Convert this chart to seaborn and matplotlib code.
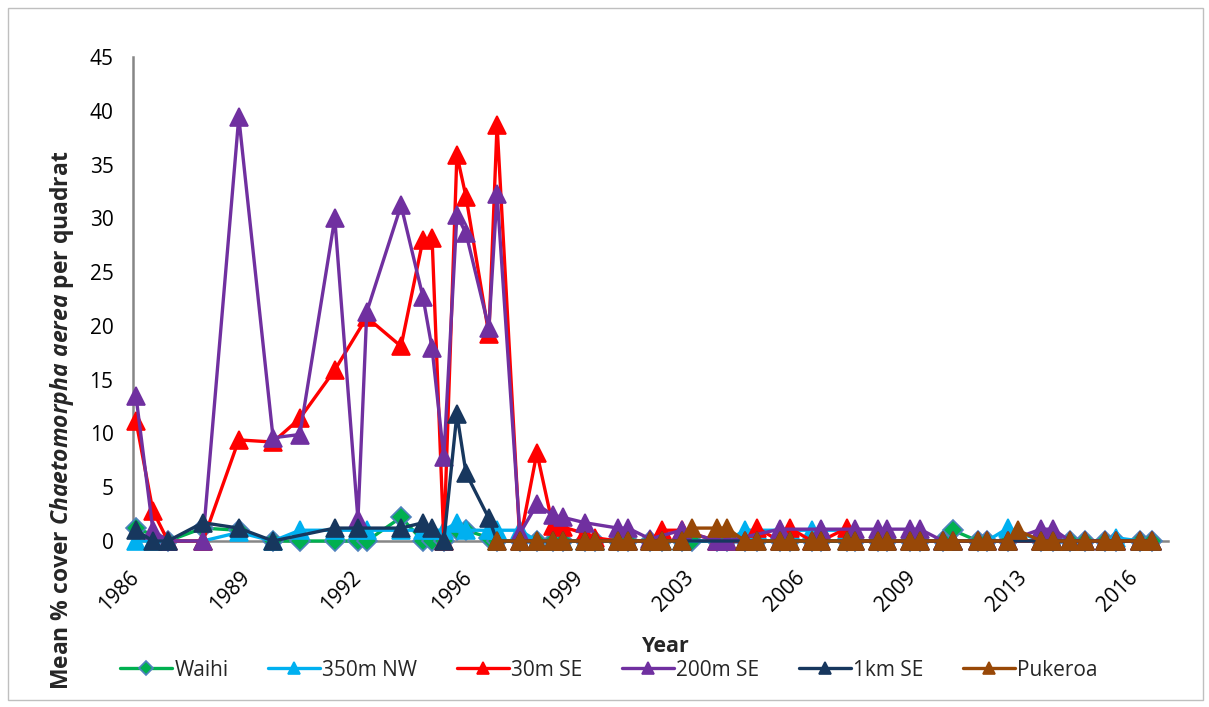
import numpy as np
import pandas as pd
import seaborn as sns
import matplotlib.pyplot as plt
from matplotlib.patches import Rectangle

nan = np.nan

# survey dates (decimal years)
dates = [1986.00, 1986.52, 1986.98, 1988.05, 1989.15, 1990.20, 1991.02, 1992.09,
         1992.80, 1993.07, 1994.12, 1994.79, 1995.07, 1995.43, 1995.83, 1996.11,
         1996.81, 1997.06, 1997.76, 1998.28, 1998.77, 1999.08, 1999.75, 2000.06,
         2000.76, 2001.07, 2001.74, 2002.11, 2002.72, 2003.03, 2003.79, 2004.10,
         2004.65, 2005.02, 2005.72, 2006.03, 2006.70, 2006.98, 2007.78, 2008.02,
         2008.73, 2009.00, 2009.71, 2010.01, 2010.72, 2011.02, 2011.79, 2012.06,
         2012.71, 2013.01, 2013.72, 2014.09, 2014.61, 2015.07, 2015.68, 2016.02,
         2016.75, 2017.12]

waihi = [1.2, nan, 0, 1.2, 1.0, 0, 0, 0, 0, 0, 2.2, 0, 0, 0, 1.0, 1.0,
         0.3, 0, 0, 0, 0, 0, 0, 0, 0, 0, 0, 0, 0, 0, 0, 0,
         0, 0, 0, 0, 0, 0, 0, 0, 0, 0, 0, 0, 0, 1.0, 0, 0,
         0, nan, 0, 0, 0, 0, 0, 0, 0, 0]
nw_350m = [0, 0, 0, 0, 0.8, 0, 1.0, 1.0, 1.0, 1.0, 1.0, 1.0, 1.0, 1.0, 1.7, 1.0,
           1.0, 1.0, 1.0, 0, 0, 0, 0, 0, 0, 0, 0, 0, 0, nan, 0, 0,
           1.0, 1.0, 1.0, 1.0, 1.0, 1.0, 1.0, 0, 0, 0, 0, 0, 0, 0, 0, 0,
           1.2, nan, 0, 0, 0, 0, 0, 0.3, 0, 0]
se_30m = [11.2, 2.8, 0, 0, 9.4, 9.2, 11.4, 15.9, nan, 20.8, 18.1, 28.0, 28.2, 0, 35.9, 32.0,
          19.2, 38.7, 0, 8.2, 1.4, 1.3, 0.7, 0.3, 0, 0, 0, 1.0, 1.0, nan, 0, 0,
          0, 1.2, 0, 1.2, 0, 0, 1.2, 0, 0, 0, 0, 0, 0, 0, 0, 0,
          0, nan, 0, 0, 0, 0, 0, 0, 0, 0]
se_200m = [13.5, 1.0, 0, 0, 39.4, 9.6, 9.9, 30.0, 2.0, 21.3, 31.2, 22.7, 17.9, 7.8, 30.3, 28.6,
           19.8, 32.3, 0.7, 3.4, 2.4, 2.2, 1.7, nan, 1.2, 1.2, 0.2, nan, 1.0, nan, 0, 0,
           nan, nan, 1.1, nan, nan, 1.1, nan, 1.1, 1.1, 1.1, 1.1, 1.1, 0, 0, 0, 0,
           0, nan, 1.1, 1.1, 0, 0, 0, 0, 0, 0]
se_1km = [1.0, 0, 0, 1.7, 1.2, 0, nan, 1.2, 1.2, nan, 1.2, 1.7, 1.2, 0, 11.8, 6.3,
          2.1, 0, 0, 0, 0, 0, 0, 0, 0, 0, 0, 0, 0, nan, nan, nan,
          0, 0, 0, 0, 0, 0, 0, 0, 0, 0, 0, 0, 0, 0, 0, 0,
          0, nan, 0, 0, 0, 0, 0, 0, 0, 0]
pukeroa = [nan, nan, nan, nan, nan, nan, nan, nan, nan, nan, nan, nan, nan, nan, nan, nan,
           nan, 0, 0, 0, 0, 0, 0, 0, 0, 0, 0, 0, 0, 1.2, 1.2, 1.2,
           0, 0, 0, 0, 0, 0, 0, 0, 0, 0, 0, 0, 0, 0, 0, 0,
           0, 1.0, 0, 0, 0, 0, 0, 0, 0, 0]

sites = ['Waihi', '350m NW', '30m SE', '200m SE', '1km SE', 'Pukeroa']
colors = ['#00B050', '#00B0F0', '#FF0000', '#7030A0', '#17375E', '#984807']
markers = ['D', '^', '^', '^', '^', '^']

year_ticks = [1986.0, 1989.4, 1992.8, 1996.2, 1999.6, 2003.0, 2006.4, 2009.8, 2013.2, 2016.6]
year_labels = ['1986', '1989', '1992', '1996', '1999', '2003', '2006', '2009', '2013', '2016']
cover_ticks = [0, 5, 10, 15, 20, 25, 30, 35, 40, 45]

df = pd.DataFrame({'Year': dates, 'Waihi': waihi, '350m NW': nw_350m, '30m SE': se_30m,
                   '200m SE': se_200m, '1km SE': se_1km, 'Pukeroa': pukeroa})
long_df = df.melt(id_vars='Year', var_name='Site', value_name='Cover').dropna()

sns.set_style('white')
plt.rcParams['font.family'] = ['Open Sans', 'DejaVu Sans']
plt.rcParams['mathtext.fontset'] = 'custom'
plt.rcParams['mathtext.bfit'] = 'Open Sans:bold:italic'
plt.rcParams['mathtext.it'] = 'Open Sans:italic'
plt.rcParams['mathtext.bf'] = 'Open Sans:bold'
plt.rcParams['mathtext.rm'] = 'Open Sans'

W, H = 1209, 707
fig = plt.figure(figsize=(W / 100, H / 100), dpi=100)
ax = fig.add_axes([133 / W, 1 - 541 / H, (1168 - 133) / W, (541 - 57) / H])

for i, site in enumerate(sites):
    sub = long_df[long_df['Site'] == site]
    sns.lineplot(data=sub, x='Year', y='Cover', ax=ax, color=colors[i],
                 marker=markers[i], markersize=10 if markers[i] == 'D' else 13,
                 markeredgecolor='#4F81BD' if markers[i] == 'D' else colors[i],
                 markeredgewidth=1.2, linewidth=2.4, estimator=None, sort=False,
                 label=site, legend=False, clip_on=False, zorder=3 + i)

ax.set_xlim(1985.91, 2017.61)
ax.set_ylim(0, 45)
ax.set_yticks(cover_ticks)
ax.set_xticks(year_ticks)
ax.set_xticklabels(year_labels, rotation=45, ha='right', va='center', rotation_mode='anchor')
ax.tick_params(axis='both', labelsize=15, colors='#868686', labelcolor='black',
               length=6, width=1.5, direction='out')
ax.tick_params(axis='x', pad=18)
ax.tick_params(axis='y', pad=8)
for side in ['top', 'right']:
    ax.spines[side].set_visible(False)
for side in ['left', 'bottom']:
    ax.spines[side].set_color('#868686')
    ax.spines[side].set_linewidth(1.8)
ax.set_xlabel('')
ax.set_ylabel('')

fig.text(62 / W, 1 - 420 / H, r'Mean % cover $\mathbfit{Chaetomorpha\ aerea}$ per quadrat',
         rotation=90, ha='center', va='center', fontsize=16.5, fontweight='bold')
fig.text(666 / W, 1 - 646 / H, 'Year', ha='center', va='center', fontsize=15.5, fontweight='bold')

handles, labels = ax.get_legend_handles_labels()
fig.legend(handles, labels, loc='center', bbox_to_anchor=(609 / W, 1 - 670 / H), ncol=6,
           frameon=False, fontsize=15, markerscale=0.7, handlelength=2.5,
           handletextpad=0.1, columnspacing=1.9)

fig.patches.append(Rectangle((8 / W, 1 - 700 / H), (1203 - 8) / W, (700 - 8) / H,
                             transform=fig.transFigure, fill=False, edgecolor='#BFBFBF',
                             linewidth=1.0))

fig.savefig('out.png', dpi=100)
